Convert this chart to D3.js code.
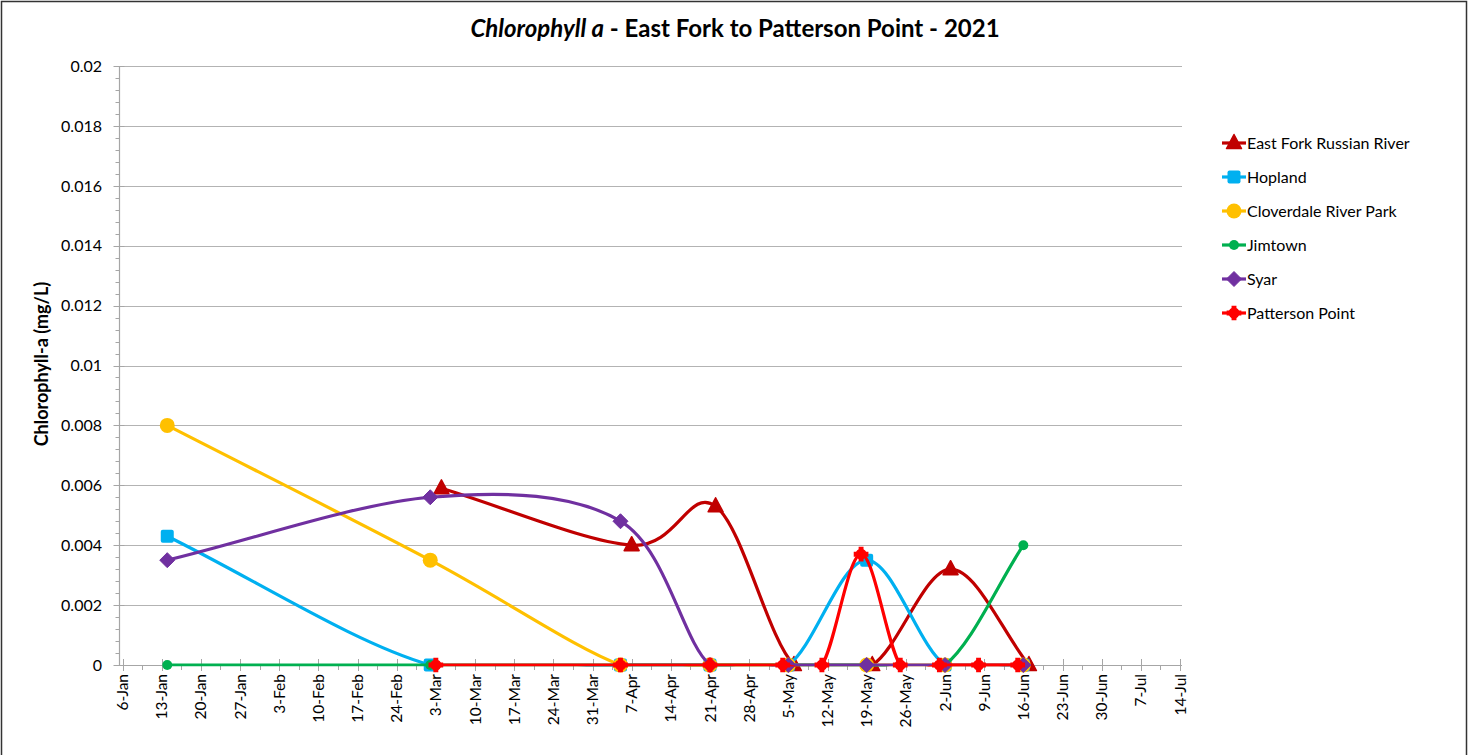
<!DOCTYPE html>
<html>
<head>
<meta charset="utf-8">
<script src="https://cdn.jsdelivr.net/npm/d3@7"></script>
<style>
  html, body { margin: 0; padding: 0; background: #fff; }
  svg { display: block; font-family: Lato, "Liberation Sans", sans-serif; }
</style>
</head>
<body>
<svg id="chart" width="1475" height="755"></svg>
<script>
// Sampling dates and chlorophyll-a results (mg/L) for each station
const stationNames = ["East Fork Russian River", "Hopland", "Cloverdale River Park", "Jimtown", "Syar", "Patterson Point"];

const eastForkDates  = ["2021-03-04", "2021-04-07", "2021-04-22", "2021-05-06", "2021-05-20", "2021-06-03", "2021-06-17"];
const eastForkValues = [0.0059, 0.004, 0.0053, 0, 0, 0.0032, 0];

const hoplandDates  = ["2021-01-14", "2021-03-02", "2021-04-05", "2021-04-21", "2021-05-05", "2021-05-19", "2021-06-02", "2021-06-16"];
const hoplandValues = [0.0043, 0, 0, 0, 0, 0.0035, 0, 0];

const cloverdaleDates  = ["2021-01-14", "2021-03-02", "2021-04-05", "2021-04-21", "2021-05-05", "2021-05-19", "2021-06-02", "2021-06-16"];
const cloverdaleValues = [0.008, 0.0035, 0, 0, 0, 0, 0, 0];

const jimtownDates  = ["2021-01-14", "2021-03-02", "2021-04-05", "2021-04-21", "2021-05-05", "2021-05-19", "2021-06-02", "2021-06-16"];
const jimtownValues = [0, 0, 0, 0, 0, 0, 0, 0.004];

const syarDates  = ["2021-01-14", "2021-03-02", "2021-04-05", "2021-04-21", "2021-05-05", "2021-05-19", "2021-06-02", "2021-06-16"];
const syarValues = [0.0035, 0.0056, 0.0048, 0, 0, 0, 0, 0];

const pattersonDates  = ["2021-03-03", "2021-04-05", "2021-04-21", "2021-05-04", "2021-05-11", "2021-05-18", "2021-05-25", "2021-06-01", "2021-06-08", "2021-06-15"];
const pattersonValues = [0, 0, 0, 0, 0, 0.0037, 0, 0, 0, 0];

const yTickValues = [0, 0.002, 0.004, 0.006, 0.008, 0.01, 0.012, 0.014, 0.016, 0.018, 0.02];
const yTickLabels = ["0", "0.002", "0.004", "0.006", "0.008", "0.01", "0.012", "0.014", "0.016", "0.018", "0.02"];

const seriesColors  = ["#C00000", "#00B0F0", "#FFC000", "#00B050", "#7030A0", "#FF0000"];
const seriesMarkers = ["triangle", "square", "circle", "smallCircle", "diamond", "star"];

const parseDay = d3.utcParse("%Y-%m-%d");
const series = [
  [eastForkDates, eastForkValues],
  [hoplandDates, hoplandValues],
  [cloverdaleDates, cloverdaleValues],
  [jimtownDates, jimtownValues],
  [syarDates, syarValues],
  [pattersonDates, pattersonValues]
].map(([dates, values], i) => ({
  name: stationNames[i],
  color: seriesColors[i],
  marker: seriesMarkers[i],
  points: dates.map((d, j) => ({ date: parseDay(d), value: values[j] }))
}));

// Spreadsheet-style smoothing: Bezier segments whose control points sit 1/6 of the
// neighbour chord away, capped at half of the segment length.
function SmoothCurve(context) { this._context = context; }
SmoothCurve.prototype = {
  areaStart() { this._line = 0; },
  areaEnd() { this._line = NaN; },
  lineStart() { this._pts = []; },
  point(px, py) { this._pts.push([+px, +py]); },
  lineEnd() {
    const p = this._pts, n = p.length, c = this._context;
    if (!n) return;
    c.moveTo(p[0][0], p[0][1]);
    if (n === 1) return;
    if (n === 2) { c.lineTo(p[1][0], p[1][1]); return; }
    const dist = (a, b) => Math.hypot(b[0] - a[0], b[1] - a[1]);
    for (let i = 0; i < n - 1; i++) {
      const p0 = i === 0 ? p[0] : p[i - 1];
      const p1 = p[i], p2 = p[i + 1];
      const p3 = i === n - 2 ? p[n - 1] : p[i + 2];
      const d12 = dist(p1, p2), d02 = dist(p0, p2), d13 = dist(p1, p3);
      let f0 = i === 0 ? 1 / 3 : 1 / 6;
      let f1 = i === n - 2 ? 1 / 3 : 1 / 6;
      if (d02 * f0 > d12 / 2 && d02 > 0) f0 = d12 / 2 / d02;
      if (d13 * f1 > d12 / 2 && d13 > 0) f1 = d12 / 2 / d13;
      const b1 = [p1[0] + f0 * (p2[0] - p0[0]), p1[1] + f0 * (p2[1] - p0[1])];
      const b2 = [p2[0] - f1 * (p3[0] - p1[0]), p2[1] - f1 * (p3[1] - p1[1])];
      c.bezierCurveTo(b1[0], b1[1], b2[0], b2[1], p2[0], p2[1]);
    }
  }
};
const curveSmooth = context => new SmoothCurve(context);

const svg = d3.select("#chart");

// Outer chart frame
svg.append("rect")
  .attr("x", 1.5).attr("y", 1.5)
  .attr("width", 1465).attr("height", 770)
  .attr("fill", "#fff").attr("stroke", "#333").attr("stroke-width", 1.5);

const x = d3.scaleUtc()
  .domain([parseDay("2021-01-06"), parseDay("2021-07-14")])
  .range([122.5, 1180]);
const y = d3.scaleLinear().domain([0, 0.02]).range([665, 66]);

const plotLeft = 119.5, plotRight = 1182;

// Lines are clipped to the plot area; markers are not
svg.append("defs").append("clipPath").attr("id", "plot-clip")
  .append("rect")
  .attr("x", plotLeft).attr("y", y(0.02) - 2)
  .attr("width", plotRight - plotLeft).attr("height", y(0) - y(0.02) + 3.6);

// Horizontal gridlines
svg.append("g").selectAll("line")
  .data(yTickValues.filter(v => v > 0))
  .join("line")
  .attr("x1", plotLeft).attr("x2", plotRight)
  .attr("y1", d => Math.round(y(d)) + 0.5).attr("y2", d => Math.round(y(d)) + 0.5)
  .attr("stroke", "#b3b3b3").attr("stroke-width", 1.2);

// Y axis: line, minor ticks every 0.0004, major ticks and labels
const yAxisG = svg.append("g");
yAxisG.append("line")
  .attr("x1", plotLeft).attr("x2", plotLeft)
  .attr("y1", y(0.02)).attr("y2", y(0))
  .attr("stroke", "#a6a6a6").attr("stroke-width", 1.2);
const yMinor = d3.range(0, 0.02 + 1e-9, 0.0004);
yAxisG.selectAll("line.minor").data(yMinor).join("line")
  .attr("class", "minor")
  .attr("x1", plotLeft - 4).attr("x2", plotLeft)
  .attr("y1", d => Math.round(y(d)) + 0.5).attr("y2", d => Math.round(y(d)) + 0.5)
  .attr("stroke", "#a6a6a6").attr("stroke-width", 1);
yAxisG.selectAll("line.major").data(yTickValues).join("line")
  .attr("class", "major")
  .attr("x1", plotLeft - 6).attr("x2", plotLeft + 5)
  .attr("y1", d => Math.round(y(d)) + 0.5).attr("y2", d => Math.round(y(d)) + 0.5)
  .attr("stroke", "#a6a6a6").attr("stroke-width", 1);
yAxisG.selectAll("text").data(yTickValues).join("text")
  .attr("x", 102).attr("y", d => y(d))
  .attr("dy", "0.36em")
  .attr("text-anchor", "end")
  .attr("font-size", 16).attr("fill", "#000")
  .text((d, i) => yTickLabels[i]);

// Y axis title
svg.append("text")
  .attr("transform", "translate(48,364) rotate(-90)")
  .attr("text-anchor", "middle")
  .attr("font-size", 18).attr("font-weight", "bold")
  .text("Chlorophyll-a (mg/L)");

// X axis: line, weekly major ticks and half-week minor ticks
const xAxisG = svg.append("g");
xAxisG.append("line")
  .attr("x1", plotLeft).attr("x2", plotRight)
  .attr("y1", 665.5).attr("y2", 665.5)
  .attr("stroke", "#a6a6a6").attr("stroke-width", 1.2);
const weekTicks = d3.utcDay.range(parseDay("2021-01-06"), d3.utcDay.offset(parseDay("2021-07-14"), 1), 7);
const halfTicks = weekTicks.slice(0, -1).map(d => new Date(d.getTime() + 3.5 * 864e5));
xAxisG.selectAll("line.minor").data(halfTicks).join("line")
  .attr("class", "minor")
  .attr("x1", d => Math.round(x(d)) + 0.5).attr("x2", d => Math.round(x(d)) + 0.5)
  .attr("y1", 665).attr("y2", 670)
  .attr("stroke", "#a6a6a6").attr("stroke-width", 1);
xAxisG.selectAll("line.major").data(weekTicks).join("line")
  .attr("class", "major")
  .attr("x1", d => Math.round(x(d)) + 0.5).attr("x2", d => Math.round(x(d)) + 0.5)
  .attr("y1", 659).attr("y2", 671)
  .attr("stroke", "#a6a6a6").attr("stroke-width", 1);
const fmtDay = d3.utcFormat("%-d-%b");
xAxisG.selectAll("text").data(weekTicks).join("text")
  .attr("transform", d => `translate(${x(d)},674) rotate(-90)`)
  .attr("dy", "0.36em")
  .attr("text-anchor", "end")
  .attr("font-size", 15.5).attr("fill", "#000")
  .text(d => fmtDay(d));

// Marker shapes
function drawMarker(g, type, color) {
  if (type === "triangle") {
    g.append("path").attr("d", "M0,-8.5L7.5,5.5L-7.5,5.5Z")
      .attr("fill", color).attr("stroke", color).attr("stroke-width", 1.5).attr("stroke-linejoin", "round");
  } else if (type === "square") {
    g.append("rect").attr("x", -6.5).attr("y", -6.5)
      .attr("width", 13).attr("height", 13).attr("rx", 2)
      .attr("fill", color);
  } else if (type === "circle") {
    g.append("circle").attr("r", 7.5).attr("fill", color);
  } else if (type === "smallCircle") {
    g.append("circle").attr("r", 5).attr("fill", color);
  } else if (type === "diamond") {
    g.append("path").attr("d", "M0,-7.5L7.5,0L0,7.5L-7.5,0Z")
      .attr("fill", color).attr("stroke", color).attr("stroke-width", 1).attr("stroke-linejoin", "round");
  } else if (type === "star") {
    g.append("circle").attr("r", 5.5).attr("fill", color);
    g.append("path").attr("d", d3.symbol(d3.symbolCross, 120)()).attr("fill", color);
  }
}

// Smoothed series lines with markers, drawn in legend order
const line = d3.line()
  .x(d => x(d.date)).y(d => y(d.value))
  .curve(curveSmooth);

series.forEach(s => {
  const g = svg.append("g");
  g.append("path")
    .datum(s.points)
    .attr("d", line)
    .attr("clip-path", "url(#plot-clip)")
    .attr("fill", "none")
    .attr("stroke", s.color)
    .attr("stroke-width", 3.2)
    .attr("stroke-linejoin", "round")
    .attr("stroke-linecap", "round");
  s.points.forEach(p => {
    const mg = g.append("g").attr("transform", `translate(${x(p.date)},${y(p.value)})`);
    drawMarker(mg, s.marker, s.color);
  });
});

// Legend
const legend = svg.append("g");
series.forEach((s, i) => {
  const cy = 143 + i * 34;
  const lg = legend.append("g").attr("transform", `translate(0,${cy})`);
  lg.append("line").attr("x1", 1222).attr("x2", 1246).attr("y1", 0).attr("y2", 0)
    .attr("stroke", s.color).attr("stroke-width", 3.2);
  const mg = lg.append("g").attr("transform", "translate(1234,0)");
  drawMarker(mg, s.marker, s.color);
  lg.append("text").attr("x", 1247).attr("y", 0).attr("dy", "0.36em")
    .attr("font-size", 16).attr("fill", "#000")
    .text(s.name);
});

// Title
const title = svg.append("text")
  .attr("x", 735).attr("y", 37)
  .attr("text-anchor", "middle")
  .attr("font-size", 24).attr("font-weight", "bold");
title.append("tspan").attr("font-style", "italic").text("Chlorophyll a");
title.append("tspan").text(" - East Fork to Patterson Point - 2021");
</script>
</body>
</html>
